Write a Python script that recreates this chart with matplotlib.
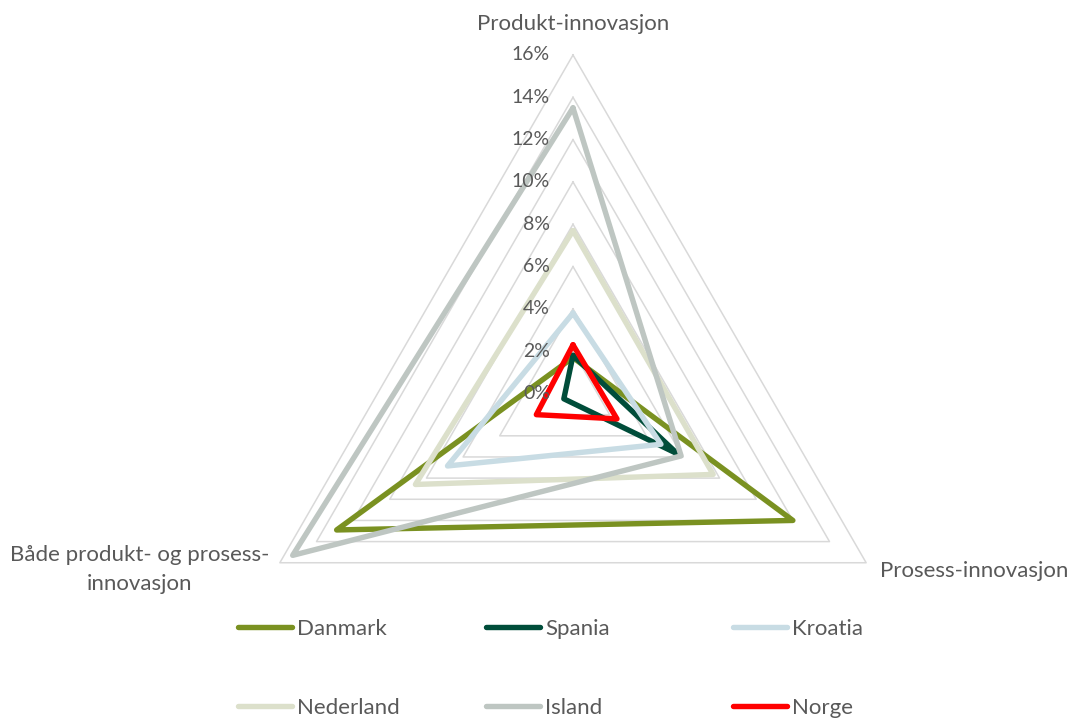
import numpy as np
import matplotlib
matplotlib.use("Agg")
import matplotlib.pyplot as plt

plt.rcParams['font.family'] = ['Lato', 'DejaVu Sans']

# Share of firms (%) by type of innovation
categories = ["Produkt-innovasjon", "Prosess-innovasjon",
              "Både produkt- og prosess-\ninnovasjon"]
countries = ["Danmark", "Spania", "Kroatia", "Nederland", "Island", "Norge"]
danmark = [1.7, 12.0, 12.9]
spania = [1.8, 5.7, 0.5]
kroatia = [3.8, 4.8, 6.85]
nederland = [7.7, 7.65, 8.6]
island = [13.5, 5.9, 15.3]
norge = [2.3, 2.4, 2.0]
series = [danmark, spania, kroatia, nederland, island, norge]
colors = ["#7A9121", "#004D3A", "#C8DCE4", "#DCE0CB", "#BEC6C2", "#FF0000"]
grid_levels = [2, 4, 6, 8, 10, 12, 14, 16]
tick_labels = ["0%", "2%", "4%", "6%", "8%", "10%", "12%", "14%", "16%"]

TEXT = "#595959"
GRID = "#D9D9D9"
FS_TICK = 14
FS = 16

W, H = 1067, 718
fig = plt.figure(figsize=(W / 100, H / 100), dpi=100)
cx, cy, R = 573, 393.5, 338.5
ax = fig.add_axes([(cx - R) / W, (H - cy - R) / H, 2 * R / W, 2 * R / H],
                  projection="polar")
ax.set_theta_offset(np.pi / 2)
ax.set_theta_direction(-1)
ax.set_ylim(0, 16)
ax.grid(False)
ax.spines["polar"].set_visible(False)
ax.set_xticks([])
ax.set_yticks([])
ax.patch.set_visible(False)

angles = np.arange(len(categories)) * 2 * np.pi / len(categories)
closed = np.concatenate([angles, angles[:1]])

# Triangular grid rings
for lvl in grid_levels:
    ax.plot(closed, [lvl] * (len(angles) + 1), color=GRID, lw=1.1,
            zorder=1, clip_on=False)

# Data polygons
for name, vals, col in zip(countries, series, colors):
    ax.plot(closed, list(vals) + [vals[0]], color=col, lw=3.9, label=name,
            solid_joinstyle="round", solid_capstyle="round", zorder=3,
            clip_on=False)

# Radial tick labels along the top axis
for i, lab in enumerate(tick_labels):
    ax.annotate(lab, xy=(0, i * 2), xytext=(-23, 0), textcoords="offset pixels",
                ha="right", va="center", fontsize=FS_TICK, color=TEXT,
                annotation_clip=False)

# Category labels
offsets = [(0, 31, "center"), (14, -8, "left"), (-140, -7, "center")]
for ang, lab, (dx, dy, ha) in zip(angles, categories, offsets):
    ax.annotate(lab, xy=(ang, 16), xytext=(dx, dy), textcoords="offset pixels",
                ha=ha, va="center", multialignment="center", fontsize=FS,
                color=TEXT, linespacing=1.55, annotation_clip=False)

# Legend: three columns with two rows each
handles, labels = ax.get_legend_handles_labels()
col_x = [238, 486, 733]
for c in range(3):
    idx = [c, c + 3]
    fig.legend([handles[i] for i in idx], [labels[i] for i in idx],
               loc="center left",
               bbox_to_anchor=(col_x[c] / W, 1 - 668.5 / H),
               frameon=False, fontsize=FS, handlelength=2.43,
               handletextpad=0.23, labelspacing=2.64, borderpad=0,
               borderaxespad=0, labelcolor=TEXT)

fig.savefig("out.png", dpi=100)
